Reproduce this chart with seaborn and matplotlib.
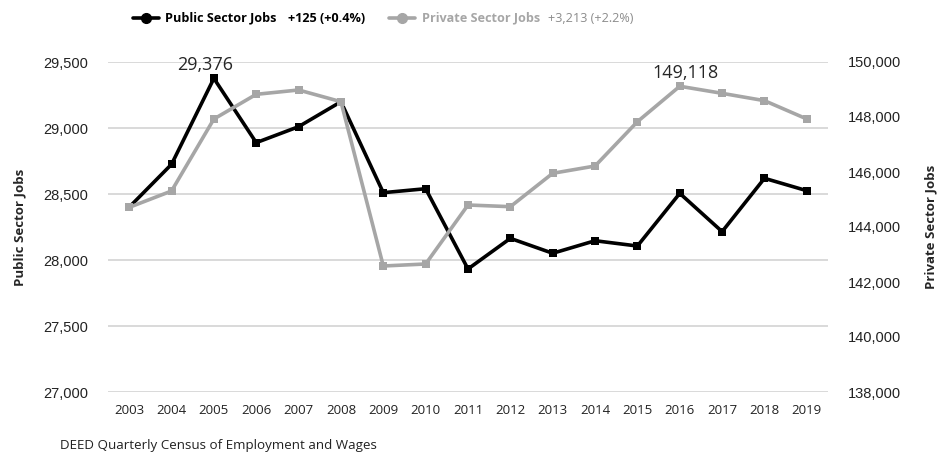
import matplotlib
matplotlib.use("Agg")
import matplotlib.pyplot as plt
from matplotlib.lines import Line2D
from matplotlib.ticker import FuncFormatter, MultipleLocator
import seaborn as sns
import pandas as pd

# Annual job counts
years = list(range(2003, 2020))
public_jobs = [28400, 28725, 29376, 28889, 29010, 29199, 28510, 28540, 27932,
               28164, 28051, 28146, 28106, 28505, 28215, 28619, 28525]
private_jobs = [144714, 145309, 147927, 148825, 148982, 148557, 142582, 142655,
                144800, 144739, 145953, 146218, 147830, 149118, 148861, 148594,
                147927]

public_label = "Public Sector Jobs"
private_label = "Private Sector Jobs"
source_note = "DEED Quarterly Census of Employment and Wages"

PUBLIC_COLOR = "#000000"
PRIVATE_COLOR = "#A6A6A6"
GRID_COLOR = "#D9D9D9"

sns.set_theme(style="white")
plt.rcParams["font.family"] = ["Open Sans", "DejaVu Sans"]

df = pd.DataFrame({"year": years, "public": public_jobs, "private": private_jobs})

fig = plt.figure(figsize=(9.45, 4.59), dpi=100)
ax = fig.add_axes([108 / 945, 1 - 392 / 459, 720 / 945, 330 / 459])
ax2 = ax.twinx()

sns.lineplot(data=df, x="year", y="public", ax=ax, color=PUBLIC_COLOR,
             linewidth=2.6, marker="s", markersize=6, markeredgewidth=0,
             legend=False)
sns.lineplot(data=df, x="year", y="private", ax=ax2, color=PRIVATE_COLOR,
             linewidth=2.6, marker="s", markersize=6, markeredgewidth=0,
             legend=False)

# Axes ranges and ticks
ax.set_xlim(2002.5, 2019.5)
ax.set_ylim(27000, 29500)
ax2.set_ylim(138000, 150000)
ax.yaxis.set_major_locator(MultipleLocator(500))
ax2.yaxis.set_major_locator(MultipleLocator(2000))
fmt = FuncFormatter(lambda v, p: f"{int(v):,}")
ax.yaxis.set_major_formatter(fmt)
ax2.yaxis.set_major_formatter(fmt)
ax.set_xticks(years)
ax.set_xticklabels([str(y) for y in years], fontsize=9.5)

for a in (ax, ax2):
    for s in a.spines.values():
        s.set_visible(False)
    a.tick_params(length=0)
ax.tick_params(axis="y", labelsize=10.5, colors="#222222", pad=14)
ax2.tick_params(axis="y", labelsize=10.5, colors="#222222", pad=14)
ax.tick_params(axis="x", pad=9, colors="#222222")
for lab in ax.get_yticklabels() + ax2.get_yticklabels():
    lab.set_family("Liberation Sans")

ax.grid(axis="y", color=GRID_COLOR, linewidth=1.4)
ax.grid(axis="x", visible=False)
ax2.grid(False)
ax.set_axisbelow(True)

ax.set_xlabel("")
ax.set_ylabel(public_label, fontsize=9.5, fontweight="bold", labelpad=12)
ax2.set_ylabel(private_label, fontsize=9.5, fontweight="bold", labelpad=17)

# Peak labels
i_pub = public_jobs.index(max(public_jobs))
ax.annotate(f"{public_jobs[i_pub]:,}", (years[i_pub], public_jobs[i_pub]),
            xytext=(-6, 3), textcoords="offset points", ha="center",
            va="bottom", fontsize=13)
i_priv = private_jobs.index(max(private_jobs))
ax2.annotate(f"{private_jobs[i_priv]:,}", (years[i_priv], private_jobs[i_priv]),
             xytext=(4, 3), textcoords="offset points", ha="center",
             va="bottom", fontsize=13)

# Legend with change over the period
def change_text(vals):
    d = vals[-1] - vals[0]
    return f"+{d:,} (+{d / vals[0] * 100:.1f}%)"

renderer = fig.canvas.get_renderer()
ly = 1 - 18 / 459
cursor = 133.0  # pixels


def legend_key(color):
    global cursor
    x0, x1 = cursor, cursor + 26
    fig.add_artist(Line2D([x0 / 945, x1 / 945], [ly, ly], color=color,
                          linewidth=2.6, transform=fig.transFigure))
    fig.add_artist(Line2D([(x0 + x1) / 2 / 945], [ly], color=color,
                          marker="o", markersize=7, transform=fig.transFigure))
    cursor = x1 + 6


def legend_text(s, color, weight, gap):
    global cursor
    t = fig.text(cursor / 945, ly, s, fontweight=weight, fontsize=9.1,
                 va="center", color=color)
    cursor += t.get_window_extent(renderer).width + gap


legend_key(PUBLIC_COLOR)
legend_text(public_label, PUBLIC_COLOR, "bold", 12)
legend_text(change_text(public_jobs), PUBLIC_COLOR, "bold", 24)
legend_key(PRIVATE_COLOR)
legend_text(private_label, PRIVATE_COLOR, "bold", 8)
legend_text(change_text(private_jobs), "#8C8C8C", "normal", 0)

fig.text(60 / 945, 1 - 446 / 459, source_note, fontsize=9.6, va="center",
         color="#222222")

fig.savefig("out.png", dpi=100)
